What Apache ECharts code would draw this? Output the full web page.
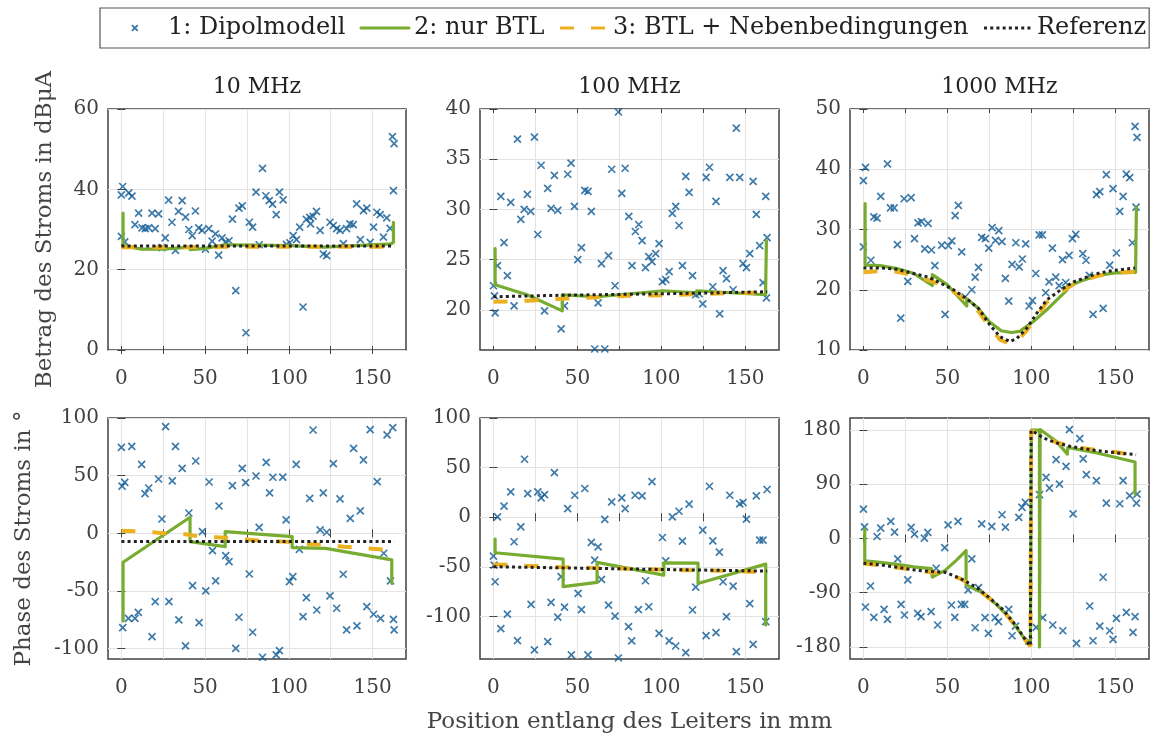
<!DOCTYPE html>
<html><head><meta charset="utf-8">
<script src="https://cdn.jsdelivr.net/npm/echarts@6/dist/echarts.min.js"></script>
<style>html,body{margin:0;padding:0;background:#fff}#c{width:1155px;height:740px}</style>
</head><body><div id="c"></div>
<script>
// ---------- category / tick data ----------
const seriesNames = ['1: Dipolmodell', '2: nur BTL', '3: BTL + Nebenbedingungen', 'Referenz'];
const panelTitles = ['10 MHz', '100 MHz', '1000 MHz'];
const xTicks = [0, 25, 50, 75, 100, 125, 150];
const xLabels = [0, 50, 100, 150];
const xRange = [-8, 170];
const yRanges = [[0, 60], [16, 40], [10, 50], [-109, 100], [-143, 100], [-200, 200]];
const yTicks = [[0, 20, 40, 60], [20, 25, 30, 35, 40], [10, 20, 30, 40, 50],
                [-100, -50, 0, 50, 100], [-100, -50, 0, 50, 100], [-180, -90, 0, 90, 180]];
const yNameTop = 'Betrag des Stroms in dBμA';
const yNameBottom = 'Phase des Stroms in °';
const xName = 'Position entlang des Leiters in mm';

// ---------- 10 MHz amplitude ----------
const dipol10A = [[0,38.6],[0.8,40.7],[0,28.3],[2,26.9],[4.4,39.1],[6.3,38.3],[8.1,31.2],[10.3,34.1],[12.3,30.4],[14.3,30.2],[16.3,30.4],[18.3,34.1],[20.2,30.2],[22.2,33.9],[24.2,25.5],[26.2,27.9],[28.2,37.3],[30.2,31.8],[32.3,24.8],[34.1,34.5],[36.3,37.2],[38.3,33.1],[40.3,30],[42.3,28.5],[44.2,34.6],[46.2,30.4],[48.2,29.8],[50.2,25.1],[52.2,30.2],[54.2,27.1],[56.2,28.9],[58.1,23.6],[60.1,27.9],[62.1,26.8],[64.3,27.2],[66.3,32.6],[68.3,14.8],[70.2,35.3],[72.2,35.9],[74.4,4.3],[76.4,31.8],[78.4,30.6],[80.4,39.3],[82.3,26.2],[84.3,45.2],[86.3,38.4],[88.3,37.2],[90.3,36.3],[92.5,33.7],[94.4,39.3],[96.6,37.4],[98.6,26.3],[100.6,26.7],[102.6,28.5],[104.6,27.5],[106.5,30.6],[108.5,10.7],[110.5,32.5],[112.5,33],[113,31.4],[114.5,33.3],[116.5,34.5],[118.7,29.8],[120.6,23.9],[122.6,23.5],[124.6,31.8],[126.6,31],[128.6,30.2],[130.6,29.8],[132.6,26.5],[134.5,30.2],[136.5,31.4],[138.5,31.2],[140.5,36.4],[142.7,27.5],[144.6,34.7],[146.6,35.3],[148.6,26.8],[150.6,30.6],[152.6,34.3],[154.6,33.7],[156.5,28.1],[158.5,32.9],[160.5,30.3],[161.9,53.1],[162.9,51.4],[162.5,39.7]];
const btl10A = [[1,34.1],[1,26.0],[12,25.1],[25,25.1],[41,25.6],[41,25.0],[50,25.3],[62,26.2],[80,26.1],[101,26.0],[121,25.6],[140,26.0],[161,26.4],[162.5,26.8],[162.5,31.8]];
const neben10A = [[0,25.6],[41,25.6],[62,25.7],[101,25.7],[121,25.7],[163,25.7]];
const ref10A = [[0,25.9],[163,25.9]];

// ---------- 100 MHz amplitude ----------
const dipol100A = [[0,22.4],[0.6,21.4],[1,19.7],[2.4,24.4],[4.4,31.3],[6.3,26.7],[8.3,23.4],[10.3,30.7],[12.3,20.4],[14.3,37],[16.3,29],[18.3,30],[20.2,31.5],[22.2,29.8],[24.4,37.2],[26.4,27.5],[28.4,34.4],[30.4,19.9],[32.3,32.1],[34.3,30.1],[36.3,33.4],[38.3,29.9],[40.3,18.1],[42.3,20.4],[44.2,33.5],[46.2,34.6],[48.2,30.3],[50.2,25],[52.4,26.2],[54.4,31.9],[56.3,31.8],[58.3,29.8],[60.3,16.1],[62.3,20.7],[64.3,24.6],[66.3,16.1],[68.5,25.4],[70.4,34],[72.4,22.4],[74.4,39.7],[76.4,31.6],[78.4,34.1],[80.6,29.3],[82.5,24.4],[84.5,27.8],[86.5,28.5],[88.5,26.9],[90.5,24.2],[92.5,25.3],[94.4,24.8],[96.6,25.6],[98.6,26.6],[100.6,22.8],[102.6,23],[104.6,23.8],[106.5,29.6],[108.5,30.3],[110.5,28.4],[112.5,24.4],[114.5,33.3],[116.5,31.7],[118.5,23.4],[120.4,21.5],[122.4,21.6],[124.6,20.6],[126.6,33.2],[128.6,34.2],[130.6,22.3],[132.5,30.8],[134.7,19.6],[136.7,23.9],[138.7,23.1],[140.7,33.2],[142.7,22],[144.6,38.1],[146.6,33.2],[148.6,24.6],[150.6,24.2],[152.6,25.6],[154.6,32.8],[156.5,29.5],[158.5,26.4],[160.5,22.7],[162.1,31.3],[162.9,27.2],[162.5,21.2]];
const btl100A = [[1,26.1],[1,22.5],[20,21.5],[41,19.9],[41,21.5],[62,21.3],[101,21.9],[121,21.7],[121,21.9],[162,21.5],[162.5,26.9]];
const neben100A = [[0,20.8],[20,20.9],[41,21.1],[41,21.2],[62,21.26],[80,21.4],[101,21.46],[121,21.56],[140,21.66],[162.5,21.72]];
const ref100A = [[0,21.3],[40,21.45],[80,21.55],[120,21.65],[163,21.8]];

// ---------- 1000 MHz amplitude ----------
const dipol1000A = [[0,38.1],[1.2,40.3],[0,27.1],[4.4,24.9],[6.2,32.1],[8.1,31.9],[10.3,35.5],[14.3,40.9],[16.1,33.6],[18.3,33.6],[20.2,27.5],[22.2,15.3],[24.2,35.1],[26.4,21.4],[28.4,35.3],[30.4,28.5],[32.5,31.1],[34.5,31.3],[36.5,26.8],[38.5,31],[40.5,26.6],[42.5,24],[46.6,27.4],[48.6,15.9],[50.6,27.3],[52.6,28.1],[54.6,32.3],[56.5,34],[58.5,26.3],[60.5,18.8],[64.5,20],[66.5,22.1],[68.5,23.7],[70.4,28.7],[72.6,28.5],[74.6,26.9],[76.6,30.3],[78.6,28.2],[80.6,29.8],[82.5,28],[84.5,21.9],[86.5,18.1],[88.5,24.2],[90.7,27.8],[92.7,23.8],[94.6,25.1],[96.6,27.6],[98.6,17.3],[100.6,18.2],[102.6,22.7],[104.6,29.1],[106.5,29.1],[108.5,19.5],[110.5,21.3],[112.5,26.9],[114.5,22.1],[116.5,20.7],[118.5,25],[120.4,21.2],[122.4,25.7],[124.4,28.5],[126.4,29.2],[130.6,26],[132.5,24.9],[134.5,22.4],[136.7,15.9],[138.7,35.8],[140.7,36.3],[142.7,16.9],[144.6,39.1],[146.6,24.1],[148.6,36.8],[150.6,26.1],[152.6,33],[154.6,35.5],[156.5,39.2],[158.5,38.6],[160.1,27.8],[161.7,47.1],[162.9,45.3],[162.3,33.7]];
const btl1000A = [[1,34.3],[1,24.1],[10,24.0],[20,23.5],[30,22.7],[41,20.7],[41,22.5],[50,20.8],[61.5,17.3],[61.5,18.5],[68,17],[75,14.7],[82,13.2],[88,12.9],[93,13.1],[101,14.7],[110,16.9],[121,19.9],[121,20.5],[130,21.5],[140,22.4],[150,22.8],[162,22.9],[162.5,33.7]];
const neben1000A = [[0,22.9],[10,23.1],[20,23.0],[30,22.4],[41,21.4],[47,20.6],[54,19.6],[61.5,18.2],[68.5,16.4],[75.4,13.7],[81.3,11.7],[87.3,11.0],[91.3,11.4],[97.2,13.2],[103.2,15.6],[109.1,17.9],[117,19.5],[125,20.9],[133,21.8],[141,22.4],[149,22.8],[162,23.0]];
const ref1000A = [[0,23.6],[10.9,23.6],[19.8,23.4],[29.8,22.7],[38.7,22.1],[46.6,21],[53.6,20],[61.5,18.5],[68.5,16.9],[75.4,14.1],[81.3,12.2],[87.3,11.4],[91.3,11.9],[97.2,13.6],[103.2,16.1],[109.1,18.3],[117,19.9],[125,21.3],[132.9,22.1],[140.8,22.8],[148.8,23.2],[161.7,23.6]];

// ---------- 10 MHz phase ----------
const dipol10P = [[0,74.6],[0.4,41],[2,44.2],[0.8,-81.8],[4.2,-73.7],[6.2,75.4],[8.1,-73.7],[10.1,-68.5],[12.1,59.8],[14.1,34.4],[16.3,39.3],[18.3,-89.6],[20.2,-59.2],[22.2,47.1],[24.2,12.4],[26.4,92.5],[28.4,-59.2],[30.4,45.4],[32.3,75.4],[34.3,-75.1],[36.3,56.4],[38.3,-97.7],[40.3,17.6],[42.5,-45.4],[44.4,62.7],[46.4,-77.5],[48.4,1.4],[50.4,-50],[52.4,44.5],[54.4,-15],[56.3,-41.3],[58.3,23.7],[62.3,-19.4],[64.3,-24.6],[66.3,41.3],[68.3,-99.7],[70.2,-72.8],[72.2,56.4],[74.2,43.9],[76.4,-35.3],[78.4,-85.8],[80.4,49.7],[82.3,5.2],[84.3,-107.5],[86.5,61.6],[88.5,35],[90.5,48.6],[92.5,-105.5],[94.4,-101.7],[96.4,48.8],[98.4,11.6],[100.4,-41.9],[102.4,-37.6],[104.4,59.8],[106.3,-13.9],[108.5,-72.3],[110.5,-55.8],[112.5,30.3],[114.5,89.6],[116.7,-66.5],[118.7,2.9],[120.6,35],[122.6,0.9],[124.6,-54.3],[126.6,60.4],[128.6,-65],[130.6,29.8],[132.5,-35.5],[134.5,-83.8],[136.7,13],[138.7,73.7],[140.7,-80.3],[142.7,19.4],[144.6,63.6],[146.6,-63.6],[148.6,89.9],[150.6,-70.2],[152.8,44.8],[154.8,-73.7],[156.7,-17.3],[158.7,85.3],[160.7,-41.3],[162.1,91.6],[162.5,-74.6],[162.9,-83.8]];
const btl10P = [[1,-76],[1,-25.1],[41,13.9],[41,-7.2],[62,-11.6],[62,1.4],[102,-2.9],[102,-12.4],[122,-13],[161.5,-23.1],[161.5,-43.4]];
const neben10P = [[0,2.3],[9.3,1.7],[18.7,0.9],[28.2,-0.3],[38.1,-0.9],[47.4,-2.9],[56.9,-3.5],[66.3,-4.3],[76.2,-5.5],[85.1,-6.6],[96,-7.2],[104,-7.8],[113.9,-9.5],[122.8,-10.1],[132.7,-11.6],[141.7,-12.4],[152,-13.6],[161.1,-14.7]];
const ref10P = [[0,-7.2],[163,-7.2]];

// ---------- 100 MHz phase ----------
const dipol100P = [[0,-39.3],[0.4,-48.3],[1,-65.1],[2.4,0.3],[4.4,-112.4],[6.3,11.1],[8.3,-97.7],[10.3,25.5],[12.3,-24.8],[14.3,-124.5],[16.3,-9.7],[18.5,58.4],[20.4,23.8],[22.4,-87.9],[24.4,-133.9],[26.4,25.5],[28.4,19.5],[30.4,22.8],[32.3,-125.5],[34.3,-85.9],[36.3,45],[38.3,-100.7],[40.3,-60],[42.3,-90.6],[44.2,8.7],[46.4,-138.9],[48.4,22.1],[50.4,-76.8],[52.4,-93.3],[54.4,28.9],[56.3,-138.9],[58.3,-25.5],[60.3,-43.3],[62.3,-29.9],[64.3,-62.8],[66.3,-2.3],[68.5,-88.6],[70.4,15.4],[72.4,-99.7],[74.4,-142],[76.4,19.5],[78.4,8.7],[80.4,-110.4],[82.3,-124.8],[84.3,22.1],[86.3,-93.3],[88.5,21.5],[90.5,-64.1],[92.5,-90.3],[94.4,35.9],[98.6,-117.1],[100.6,-20.5],[102.6,-44],[104.6,-124.8],[106.5,0.3],[108.5,-129.9],[110.5,6],[112.5,-24.2],[114.5,-136.6],[116.5,13.1],[118.5,-93.6],[120.4,-70.5],[124.6,-13.1],[126.6,-119.5],[128.6,31.2],[130.6,-23.8],[132.5,-116.4],[134.5,-35.2],[136.7,-65.1],[138.7,-100.3],[140.7,22.1],[142.7,-69.5],[144.6,-135.6],[146.6,13.4],[148.6,14.8],[150.6,-2],[152.6,-87.2],[154.6,-128.2],[156.5,21.5],[158.5,-23.2],[160.5,-23.2],[162.1,-105.4],[162.9,27.9]];
const btl100P = [[1,-22.1],[1,-35.9],[41.5,-42.3],[41.5,-70.1],[61.7,-65.8],[61.7,-45.6],[101.4,-58.4],[101.4,-46],[121.8,-46.3],[121.8,-66.8],[162.1,-47.3],[162.1,-108.7]];
const neben100P = [[0,-47.7],[9.3,-47.9],[19,-49],[28.6,-49.2],[38.5,-50.3],[47.4,-50.5],[57.3,-51],[66.3,-51.2],[76.6,-51.7],[85.1,-52],[96,-52.7],[104,-52.9],[114.9,-53.4],[123.8,-53.6],[133.7,-54],[142.5,-54.2],[152.6,-55],[162.1,-55]];
const ref100P = [[0,-50],[163,-54.4]];

// ---------- 1000 MHz phase ----------
const dipol1000P = [[0,48.8],[0.6,19.4],[1.2,-113.7],[4.2,-78.8],[6.2,-130.9],[8.1,3.3],[10.3,17.2],[12.3,-117.6],[14.3,-134.2],[16.3,28.3],[18.5,10.5],[20.4,-33.8],[22.4,-109.3],[24.4,-127],[26.4,-68.8],[28.4,18.3],[30.4,7.2],[32.3,-124.2],[34.3,-129.8],[36.3,0.6],[38.3,10],[40.3,-121.5],[43.3,-49.4],[44.2,-143.6],[48.4,-15],[50.4,22.7],[52.4,-110.4],[54.4,-130.9],[56.3,28.3],[58.3,-109.3],[60.3,-109.3],[62.3,-85.4],[64.5,-33.8],[66.5,-148.1],[68.5,-81.5],[70.4,24.4],[72.4,-131.4],[74.4,-157.5],[76.4,20],[78.4,-131.4],[80.4,-138.1],[82.5,39.4],[84.5,18.9],[86.5,-117.6],[88.5,-161.4],[90.5,-145.3],[92.5,34.9],[94.4,51.6],[96.4,59.9],[98.4,-170.3],[102.8,-147.5],[104.8,72.7],[106.7,-131.4],[108.7,101.5],[110.7,83.7],[112.7,-143.6],[114.7,130.9],[116.7,90.4],[118.7,-153.1],[120.6,119.8],[122.6,180.8],[124.8,41],[126.8,-174.2],[128.8,165.8],[130.8,132],[132.7,105.9],[134.7,-112],[136.7,-169.7],[138.7,96],[140.7,-145.3],[142.7,-64.3],[144.6,58.8],[146.6,-153.1],[148.6,-167.5],[150.6,-132.6],[152.6,57.7],[154.6,96],[156.5,-122.6],[158.5,71],[160.5,-155.8],[161.7,-129.8],[162.5,58.8],[162.9,73.8]];
const btl1000P = [[0.8,15.5],[0.8,-37.2],[10,-39.5],[20,-43],[30,-47],[40.5,-50],[41,-64],[48.6,-53],[55.6,-35.5],[61.1,-20],[61.1,-77],[69.4,-88],[79.4,-110],[87.3,-132.6],[94.2,-160],[99.4,-177],[100,180],[104.8,180],[104.8,-180],[105.2,-180],[105.2,180.8],[115,161],[121.4,140],[121.6,151],[139,142],[161.7,127],[161.7,73.8]];
const neben1000P = [[0,-41.6],[10,-44.5],[20,-48],[30,-52],[41,-56.5],[48,-57],[57.5,-66.5],[67.5,-82],[75.4,-100],[83.3,-120],[91.3,-148],[97.2,-172],[99.4,-179],[99.9,178],[102,177],[107,168],[115,159.5],[123,154],[131,150],[139,147],[151,143],[162.3,138]];
const ref1000P = [[0,-41],[10,-43.8],[20,-47.7],[30,-52.1],[40,-54.9],[48.6,-56],[57.5,-66],[67.5,-81.5],[75.4,-99.3],[83.3,-118.7],[91.3,-146.4],[97.2,-171.4],[99.4,-178],[99.8,179],[102,176],[107,167],[115,158.6],[123,153],[131,149],[139,145.9],[151,142],[162.3,139.2]];

// ---------- assemble ----------
const panels = [
  [dipol10A, btl10A, neben10A, ref10A],
  [dipol100A, btl100A, neben100A, ref100A],
  [dipol1000A, btl1000A, neben1000A, ref1000A],
  [dipol10P, btl10P, neben10P, ref10P],
  [dipol100P, btl100P, neben100P, ref100P],
  [dipol1000P, btl1000P, neben1000P, ref1000P]
];

const FONT = 'DejaVu Serif';
const C_BLUE = '#0f5a94', C_GREEN = '#77AC30', C_ORANGE = '#EDB120', C_REF = '#222222';
const AX = '#404040', GRID = '#e3e3e3';
const colLeft = [108, 480, 850], colWidth = [298, 299, 299], rowTop = [109, 418], panelH = 241;
const crossPath = 'path://M0 0L10 10M10 0L0 10';

const grids = [], xAxes = [], yAxes = [], series = [], titles = [];
panels.forEach((p, i) => {
  const c = i % 3, r = Math.floor(i / 3);
  grids.push({left: colLeft[c], top: rowTop[r], width: colWidth[c], height: panelH,
    show: true, borderColor: AX, borderWidth: 1.5, backgroundColor: '#fff', containLabel: false});
  const xb = {
    type: 'value', gridIndex: i, position: 'bottom', min: xRange[0], max: xRange[1],
    axisLine: {show: false},
    axisTick: {show: true, inside: true, length: 4, customValues: xTicks, lineStyle: {color: AX, width: 1}},
    axisLabel: {show: true, customValues: xLabels, margin: 19, fontFamily: FONT, fontSize: 20, color: AX},
    splitLine: {show: true, lineStyle: {color: GRID, width: 1}}
  };
  if (i === 4) {
    Object.assign(xb, {name: xName, nameLocation: 'middle', nameGap: 52,
      nameTextStyle: {fontFamily: FONT, fontSize: 23, color: '#444'}});
  }
  xAxes.push(xb);
  const yl = {
    type: 'value', gridIndex: i, position: 'left', min: yRanges[i][0], max: yRanges[i][1],
    axisLine: {show: false},
    axisTick: {show: true, inside: true, length: 4, customValues: yTicks[i], lineStyle: {color: AX, width: 1}},
    axisLabel: {show: true, customValues: yTicks[i], margin: 9, fontFamily: FONT, fontSize: 20, color: AX},
    splitLine: {show: true, lineStyle: {color: GRID, width: 1}}
  };
  if (i === 0 || i === 3) {
    Object.assign(yl, {name: i === 0 ? yNameTop : yNameBottom, nameLocation: 'middle',
      nameGap: i === 0 ? 51 : 72, nameTextStyle: {fontFamily: FONT, fontSize: 23, color: '#444'}});
  }
  yAxes.push(yl);
  if (r === 0) {
    titles.push({text: panelTitles[c], left: colLeft[c] + colWidth[c] / 2, top: 76, textAlign: 'center',
      padding: 0, textStyle: {fontFamily: FONT, fontSize: 22, fontWeight: 'normal', color: '#222'}});
  }
  series.push({name: seriesNames[0], type: 'scatter', xAxisIndex: i, yAxisIndex: i, data: p[0],
    symbol: crossPath, symbolSize: 7,
    itemStyle: {color: C_BLUE, borderColor: C_BLUE, borderWidth: 1.7}, z: 2});
  series.push({name: seriesNames[1], type: 'line', xAxisIndex: i, yAxisIndex: i, data: p[1],
    symbol: 'none', showSymbol: false,
    lineStyle: {color: C_GREEN, width: 3.2, cap: 'round', join: 'round'}, itemStyle: {color: C_GREEN}, z: 3});
  series.push({name: seriesNames[2], type: 'line', xAxisIndex: i, yAxisIndex: i, data: p[2],
    symbol: 'none', showSymbol: false,
    lineStyle: {color: C_ORANGE, width: 4, type: [14, 17], cap: 'butt'}, itemStyle: {color: C_ORANGE}, z: 4});
  series.push({name: seriesNames[3], type: 'line', xAxisIndex: i, yAxisIndex: i, data: p[3],
    symbol: 'none', showSymbol: false,
    lineStyle: {color: C_REF, width: 3, type: [3, 3.2], cap: 'butt'}, itemStyle: {color: C_REF}, z: 5});
});
// mirrored tick axes (top / right)
panels.forEach((p, i) => {
  xAxes.push({type: 'value', gridIndex: i, position: 'top', min: xRange[0], max: xRange[1],
    axisLine: {show: false}, axisLabel: {show: false}, splitLine: {show: false},
    axisTick: {show: true, inside: true, length: 4, customValues: xTicks, lineStyle: {color: AX}}});
  yAxes.push({type: 'value', gridIndex: i, position: 'right', min: yRanges[i][0], max: yRanges[i][1],
    axisLine: {show: false}, axisLabel: {show: false}, splitLine: {show: false},
    axisTick: {show: true, inside: true, length: 4, customValues: yTicks[i], lineStyle: {color: AX}}});
});

const chart = echarts.init(document.getElementById('c'), null, {renderer: 'canvas'});
chart.setOption({
  animation: false,
  backgroundColor: '#fff',
  title: titles,
  legend: {
    left: 100, top: 8, width: 1100, padding: [8, 3, 8, 14], itemGap: 14, itemWidth: 48, itemHeight: 14,
    borderColor: '#555', borderWidth: 1.2, borderRadius: 0,
    lineStyle: {width: 3},
    textStyle: {fontFamily: FONT, fontSize: 24, color: '#222'},
    data: [{name: seriesNames[0], icon: 'path://M-29 -7M0 0L10 10M10 0L0 10M53 17'},
           {name: seriesNames[1], itemStyle: {opacity: 0}},
           {name: seriesNames[2], itemStyle: {opacity: 0}},
           {name: seriesNames[3], itemStyle: {opacity: 0}}]
  },
  grid: grids, xAxis: xAxes, yAxis: yAxes, series: series
});
</script></body></html>
